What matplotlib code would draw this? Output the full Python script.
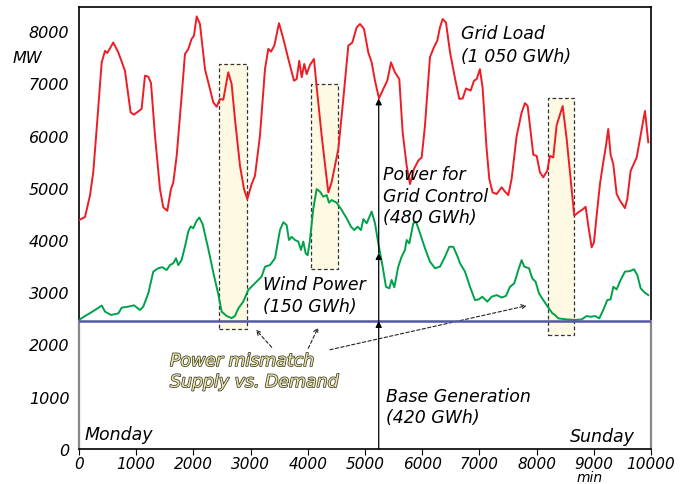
import matplotlib
matplotlib.use("Agg")
import matplotlib.pyplot as plt
import matplotlib.patheffects as pe
from matplotlib.patches import Rectangle

# grid load (MW) over the week, minutes
grid_x = [0, 105, 192, 250, 309, 397, 455, 495, 600, 688, 804, 903, 962, 1095, 1154,
          1212, 1259, 1329, 1416, 1474, 1544, 1608, 1649, 1708, 1795, 1853, 1911, 1970,
          2010, 2058, 2115, 2203, 2290, 2348, 2407, 2465, 2523, 2610, 2669, 2727, 2815,
          2885, 2943, 3019, 3077, 3164, 3252, 3310, 3357, 3415, 3497, 3573, 3660, 3759,
          3805, 3851, 3893, 3939, 3980, 4038, 4108, 4155, 4243, 4359, 4417, 4464, 4534,
          4621, 4709, 4779, 4855, 4913, 4983, 5058, 5117, 5175, 5245, 5320, 5390, 5455,
          5524, 5600, 5659, 5729, 5787, 5857, 5932, 5991, 6049, 6136, 6206, 6264, 6311,
          6358, 6416, 6486, 6573, 6649, 6708, 6766, 6848, 6906, 6953, 7010, 7057, 7127,
          7173, 7232, 7302, 7390, 7448, 7506, 7564, 7652, 7739, 7797, 7844, 7943, 8002,
          8059, 8117, 8187, 8234, 8292, 8351, 8456, 8526, 8596, 8659, 8729, 8799, 8858,
          8904, 8963, 9003, 9050, 9108, 9166, 9213, 9253, 9295, 9341, 9400, 9458, 9545,
          9586, 9645, 9750, 9808, 9895, 9953]
grid_y = [4380, 4440, 4850, 5300, 6125, 7400, 7620, 7580, 7780, 7590, 7240, 6440, 6400,
          6510, 7145, 7125, 7005, 5995, 4975, 4625, 4560, 4975, 5100, 5610, 6760, 7560,
          7655, 7850, 7910, 8280, 8135, 7270, 6890, 6635, 6550, 6700, 6685, 7210, 6985,
          6315, 5420, 4975, 4785, 5070, 5230, 5995, 7270, 7660, 7605, 7720, 8150, 7850,
          7465, 7050, 7080, 7430, 7115, 7370, 7175, 7350, 7465, 6935, 5995, 4910, 5105,
          5360, 5740, 6700, 7720, 7780, 8070, 8135, 8040, 7590, 7400, 7050, 6710, 6890,
          7050, 7400, 7210, 7080, 6060, 5420, 5070, 5360, 5520, 5580, 6190, 7500, 7690,
          7815, 8070, 8230, 8165, 7600, 7100, 6700, 6710, 6900, 6860, 7050, 7080, 7270,
          6905, 5740, 5170, 4910, 4880, 5010, 4925, 4860, 5170, 5995, 6440, 6620, 6565,
          5630, 5610, 5295, 5200, 5325, 5610, 5580, 6200, 6565, 5935, 5170, 4465, 4530,
          4580, 4635, 4275, 3860, 3955, 4465, 5070, 5490, 5800, 6125, 5630, 5455, 4880,
          4755, 4610, 4785, 5325, 5580, 5935, 6470, 5870]

# wind power stacked on base generation (MW)
wind_x = [0, 105, 192, 280, 397, 455, 559, 688, 746, 862, 962, 1066, 1124, 1212, 1299,
          1386, 1456, 1533, 1591, 1649, 1696, 1736, 1795, 1853, 1911, 1952, 1998, 2058,
          2103, 2162, 2261, 2348, 2435, 2494, 2582, 2669, 2727, 2785, 2872, 2960, 3047,
          3135, 3193, 3252, 3339, 3427, 3514, 3573, 3631, 3671, 3718, 3776, 3834, 3881,
          3922, 3963, 3998, 4038, 4096, 4155, 4213, 4272, 4330, 4371, 4417, 4505, 4592,
          4680, 4755, 4813, 4872, 4930, 4971, 5030, 5117, 5175, 5233, 5309, 5367, 5425,
          5466, 5513, 5582, 5641, 5699, 5729, 5775, 5845, 5892, 5962, 6049, 6136, 6224,
          6311, 6399, 6474, 6544, 6620, 6661, 6748, 6836, 6923, 6993, 7051, 7138, 7215,
          7302, 7390, 7465, 7535, 7610, 7680, 7739, 7785, 7867, 7925, 7984, 8042, 8117,
          8194, 8275, 8322, 8380, 8526, 8671, 8788, 8875, 8945, 9021, 9096, 9166, 9236,
          9295, 9341, 9400, 9470, 9545, 9633, 9703, 9761, 9820, 9895, 9953]
wind_y = [2470, 2545, 2600, 2660, 2745, 2630, 2565, 2595, 2705, 2725, 2750, 2660, 2725,
          2980, 3395, 3460, 3480, 3425, 3520, 3555, 3650, 3520, 3620, 3875, 4160, 4260,
          4225, 4370, 4430, 4305, 3830, 3380, 2965, 2630, 2545, 2505, 2545, 2690, 2820,
          3045, 3140, 3235, 3300, 3490, 3520, 3650, 4190, 4340, 4285, 4000, 4060, 4000,
          3970, 3810, 3970, 3745, 3710, 4000, 4595, 4975, 4925, 4830, 4860, 4715, 4765,
          4715, 4575, 4415, 4255, 4190, 4255, 4190, 4400, 4320, 4545, 4320, 3935, 3490,
          3105, 3075, 3235, 3095, 3490, 3680, 3810, 4000, 3935, 4320, 4350, 4130, 3840,
          3585, 3460, 3490, 3680, 3870, 3870, 3680, 3555, 3395, 3105, 2850, 2865, 2915,
          2820, 2915, 2945, 2900, 2930, 3105, 3170, 3425, 3615, 3490, 3460, 3265, 3200,
          2980, 2850, 2725, 2600, 2565, 2500, 2480, 2470, 2480, 2545, 2530, 2545, 2500,
          2660, 2850, 2865, 3105, 3055, 3235, 3395, 3405, 3440, 3330, 3075, 2990, 2945]

base_gen = 2450

# mismatch windows: (start, end, low, high)
mismatch_x0 = [2448, 4056, 8194]
mismatch_x1 = [2932, 4533, 8659]
mismatch_lo = [2297, 3445, 2188]
mismatch_hi = [7370, 6985, 6718]

arrow_x = 5240
arrow_levels = [0, 2450, 3750, 6710]

xticks = list(range(0, 10001, 1000))
yticks = list(range(0, 8001, 1000))

fnt = dict(family="DejaVu Sans", style="italic")

fig = plt.figure(figsize=(6.94, 4.85), dpi=100)
ax = fig.add_axes([0.1138, 0.0722, 0.8242, 0.9113])
ax.set_xlim(0, 10000)
ax.set_ylim(0, 8460)

for x0, x1, lo, hi in zip(mismatch_x0, mismatch_x1, mismatch_lo, mismatch_hi):
    ax.add_patch(Rectangle((x0, lo), x1 - x0, hi - lo, facecolor="#fdf9e2",
                           edgecolor="#333333", linestyle=(0, (3, 2)), lw=0.9, zorder=1))

ax.plot(grid_x, grid_y, color="#ee1c25", lw=1.4, zorder=3)
ax.plot(wind_x, wind_y, color="#00a14b", lw=1.4, zorder=3)
ax.axhline(base_gen, color="#5656a6", lw=1.8, zorder=4)

# power-for-grid-control arrow
for lo, hi in zip(arrow_levels[:-1], arrow_levels[1:]):
    ax.annotate("", xy=(arrow_x, hi), xytext=(arrow_x, lo),
                arrowprops=dict(arrowstyle="-|>", color="black", lw=0.9,
                                mutation_scale=9, shrinkA=0, shrinkB=0), zorder=5)

# dashed pointers from the mismatch label
for tip, tail in [((3094, 2283), (3369, 1946)), ((4183, 2329), (4009, 1927)),
                  ((7827, 2743), (4388, 1900))]:
    ax.annotate("", xy=tip, xytext=tail,
                arrowprops=dict(arrowstyle="->", color="#222222", lw=0.8,
                                linestyle=(0, (3, 2)), mutation_scale=8,
                                shrinkA=0, shrinkB=0))

tsz = 12.5
ax.text(6678, 7962, "Grid Load", fontsize=tsz, va="center", **fnt)
ax.text(6678, 7522, "(1 050 GWh)", fontsize=tsz, va="center", **fnt)
ax.text(5315, 5263, "Power for", fontsize=tsz, va="center", **fnt)
ax.text(5315, 4842, "Grid Control", fontsize=tsz, va="center", **fnt)
ax.text(5315, 4440, "(480 GWh)", fontsize=tsz, va="center", **fnt)
ax.text(3217, 3158, "Wind Power", fontsize=tsz, va="center", **fnt)
ax.text(3217, 2737, "(150 GWh)", fontsize=tsz, va="center", **fnt)
ax.text(5367, 1014, "Base Generation", fontsize=tsz, va="center", **fnt)
ax.text(5367, 612, "(420 GWh)", fontsize=tsz, va="center", **fnt)
ax.text(105, 287, "Monday", fontsize=tsz, va="center", **fnt)
ax.text(8584, 249, "Sunday", fontsize=tsz, va="center", **fnt)
outline = [pe.withStroke(linewidth=1.1, foreground="#3a3a28")]
for y, s in [(1684, "Power mismatch"), (1282, "Supply vs. Demand")]:
    ax.text(1591, y, s, fontsize=tsz, va="center", color="#eee6a8",
            path_effects=outline, **fnt)

ax.text(-1154, 7502, "MW", fontsize=11.5, va="center", clip_on=False, **fnt)
ax.text(8934, -545, "min", fontsize=10, ha="center", va="center", clip_on=False, **fnt)

ax.set_xticks(xticks)
ax.set_yticks(yticks)
ax.set_xticklabels([str(v) for v in xticks], fontsize=11, **fnt)
ax.set_yticklabels([str(v) for v in yticks], fontsize=11.5, **fnt)
ax.tick_params(axis="x", direction="out", length=4, width=0.8, pad=1)
ax.tick_params(axis="y", length=0, pad=7)

# frame: black above base generation, grey below
for side in ["left", "right"]:
    ax.spines[side].set_visible(False)
frac = base_gen / 8460
for xx in [0, 10000]:
    ax.axvline(xx, ymin=frac, ymax=1, color="black", lw=1.2, clip_on=False)
    ax.axvline(xx, ymin=0, ymax=frac, color="#888888", lw=1.6, clip_on=False)
ax.spines["top"].set_linewidth(1.2)
ax.spines["bottom"].set_linewidth(1.2)

fig.savefig("out.png", dpi=100)
